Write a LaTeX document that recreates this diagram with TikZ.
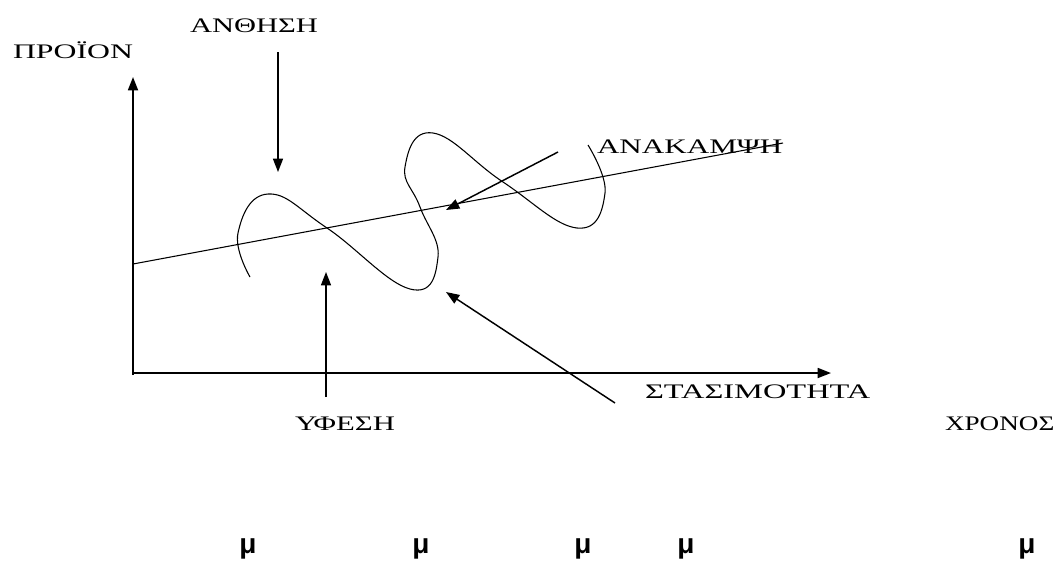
\documentclass[tikz,border=0pt]{standalone}
\usepackage{fontspec}
\usepackage{graphicx}
\usetikzlibrary{arrows.meta}
\newfontfamily\grserif{Liberation Serif}
\newfontfamily\musans{Liberation Sans}
\newcommand{\gk}[2]{\resizebox{#1pt}{\height}{\grserif\fontsize{15.5}{15.5}\selectfont #2}}
\begin{document}
\begin{tikzpicture}[x=0.75pt,y=-0.75pt,
  lbl/.style={inner sep=0pt,outer sep=0pt,anchor=base west},
  mu/.style={inner sep=0pt,anchor=base,font=\musans\bfseries\fontsize{21}{21}\selectfont},
  arr/.style={line width=1.1pt,-{Triangle[length=10pt,width=7.5pt]}},
  axis/.style={line width=1.3pt,-{Triangle[length=10pt,width=7.5pt]}},
  thin/.style={line width=0.8pt}]
\useasboundingbox (0,0) rectangle (1059,565);
\fill[white] (0,0) rectangle (1059,565);
% labels (widths in pt = px*0.75)
\node[lbl] (proion) at (13,58) {\gk{90}{ΠΡΟΪΟΝ}};
\node[lbl] (anthisi) at (190,32) {\gk{96}{ΑΝΘΗΣΗ}};
\node[lbl] (anakampsi) at (597,153) {\gk{139}{ΑΝΑΚΑΜΨΗ}};
\node[lbl] (stasimotita) at (645,398) {\gk{169}{ΣΤΑΣΙΜΟΤΗΤΑ}};
\node[lbl] (yfesi) at (295,430) {\gk{75}{ΥΦΕΣΗ}};
\node[lbl] (xronos) at (945,430) {\gk{82}{ΧΡΟΝΟΣ}};
% axes
\coordinate (O) at (133,375);
\coordinate (Ytip) at (133,77);
\coordinate (Xo) at (133,373);
\coordinate (Xtip) at (831,373);
\draw[axis] (O) -- (Ytip);
\draw[axis] (Xo) -- (Xtip);
% trend line
\coordinate (T1) at (133,264);
\coordinate (T2) at (783,143);
\draw[thin] (T1) -- (T2);
% cycle curve
\draw[thin] plot[smooth,tension=0.75] coordinates {(250,277) (238,233) (268,194) (327,228) (410,289) (438,257) (420,207) (405,167) (433,133) (503,182) (577,228) (605,193) (588,145)};
% arrows
\coordinate (a1s) at (278,52);
\coordinate (a1e) at (278,172);
\draw[arr] (a1s) -- (a1e);
\coordinate (a2s) at (326,397);
\coordinate (a2e) at (326,272);
\draw[arr] (a2s) -- (a2e);
\coordinate (a3s) at (558,152);
\coordinate (a3e) at (446,210);
\draw[arr] (a3s) -- (a3e);
\coordinate (a4s) at (615,403);
\coordinate (a4e) at (446,292);
\draw[arr] (a4s) -- (a4e);
% mu marks
\node[mu] (m1) at (248,553) {μ};
\node[mu] (m2) at (421,553) {μ};
\node[mu] (m3) at (583,553) {μ};
\node[mu] (m4) at (686,553) {μ};
\node[mu] (m5) at (1027,553) {μ};
\end{tikzpicture}
\end{document}
